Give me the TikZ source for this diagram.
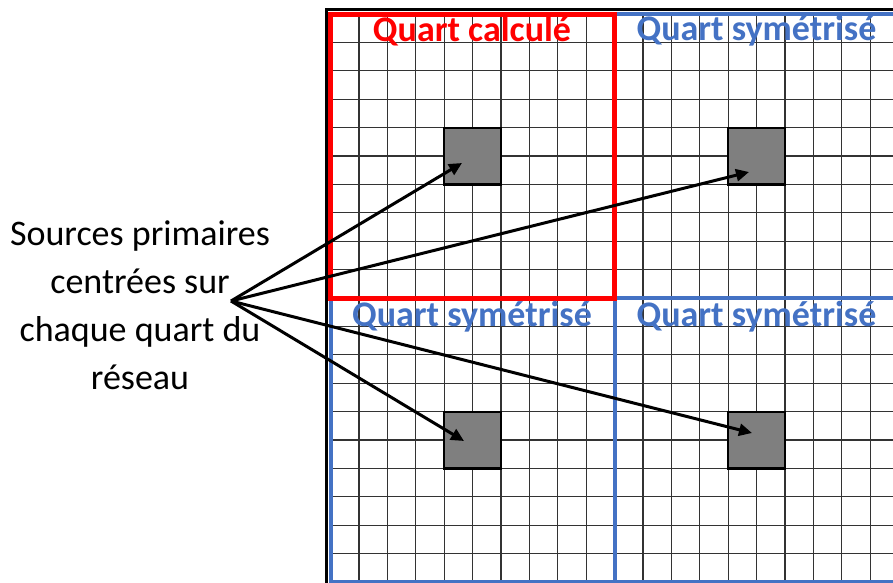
\documentclass[tikz,border=0pt]{standalone}
\usepackage{fontspec}
\setmainfont{Carlito}
\usetikzlibrary{arrows.meta,calc}
\definecolor{qred}{HTML}{FF0000}
\definecolor{qblue}{HTML}{4472C4}
\definecolor{sqgray}{HTML}{7F7F7F}
\begin{document}
\begin{tikzpicture}[x=1pt,y=-1pt,
  gridline/.style={draw=black!80,line width=1.2pt},
  frameline/.style={draw=black,line width=3.5pt},
  symbox/.style={draw=qblue,line width=4pt},
  calcbox/.style={draw=qred,line width=5pt},
  srcsquare/.style={draw=black,line width=2.2pt,fill=sqgray,minimum size=56.8pt,inner sep=0pt},
  calclabel/.style={text=qred,font=\fontsize{36}{43}\selectfont\bfseries,anchor=base,inner sep=0pt},
  symlabel/.style={text=qblue,font=\fontsize{36}{43}\selectfont\bfseries,anchor=base,inner sep=0pt},
  srcarrow/.style={draw=black,line width=3pt,-{Triangle[length=13pt,width=12pt]}}
]
\useasboundingbox (0,0) rectangle (893,582);
\clip (0,0) rectangle (893,582);
% grid
\foreach \i in {0,...,20}{
  \draw[gridline] ({330.5+\i*28.4},14) -- ({330.5+\i*28.4},582);
  \draw[gridline] (330.5,{14+\i*28.4}) -- (898.5,{14+\i*28.4});
}
% outer frame
\draw[frameline] (326.5,9.5) rectangle (910,600);
% quarters
\draw[symbox] (614.5,14) rectangle (898.5,298);
\draw[symbox] (330.5,298) rectangle (614.5,582);
\draw[symbox] (614.5,298) rectangle (898.5,582);
\draw[calcbox] (330.5,14) rectangle (614.5,298);
% squares
\node[srcsquare] (sqTL) at (472.5,156) {};
\node[srcsquare] (sqTR) at (756.5,156) {};
\node[srcsquare] (sqBL) at (472.5,440) {};
\node[srcsquare] (sqBR) at (756.5,440) {};
% labels
\node[calclabel] (lTL) at (472,41) {Quart calculé};
\node[symlabel] (lTR) at (756.5,40) {Quart symétrisé};
\node[symlabel] (lBL) at (472,326) {Quart symétrisé};
\node[symlabel] (lBR) at (756.5,326) {Quart symétrisé};
% left text
\node[font=\fontsize{36}{48}\selectfont,align=center,anchor=north,inner sep=0pt] (src) at (140,221)
  {Sources primaires\\centrées sur\\chaque quart du\\réseau};
\coordinate (o) at (231,301);
\coordinate (tTL) at ($(sqTL.center)+(-10.5,7)$);
\coordinate (tTR) at ($(sqTR.center)+(-7.5,16)$);
\coordinate (tBL) at ($(sqBL.center)+(-8.5,1)$);
\coordinate (tBR) at ($(sqBR.center)+(-4.5,-7)$);
\draw[srcarrow] (o) -- (tTL);
\draw[srcarrow] (o) -- (tTR);
\draw[srcarrow] (o) -- (tBL);
\draw[srcarrow] (o) -- (tBR);
\end{tikzpicture}
\end{document}
